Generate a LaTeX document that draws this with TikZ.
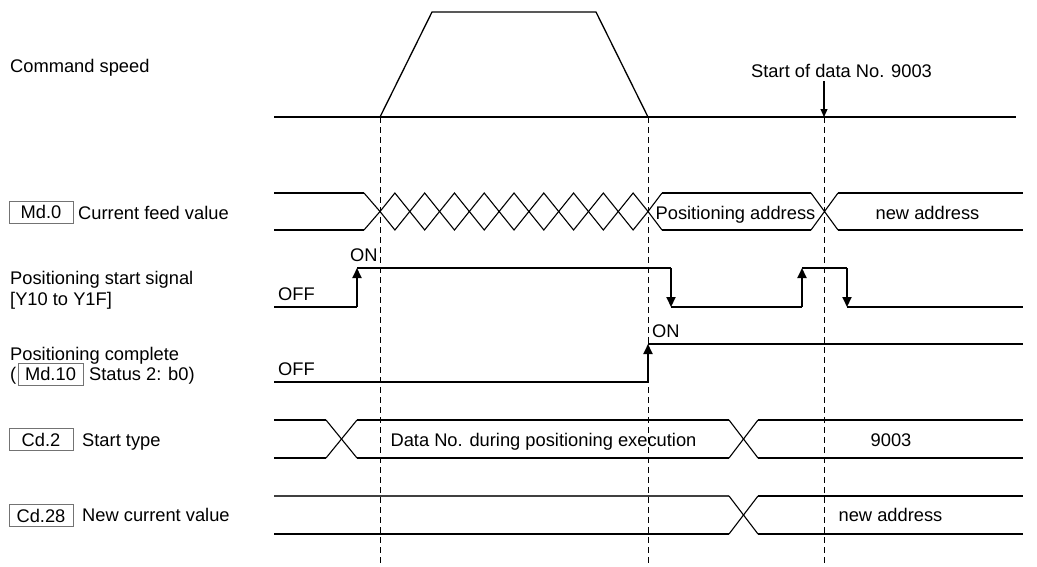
\documentclass[tikz,border=0pt]{standalone}
\usepackage{fontspec}
\setmainfont{Liberation Sans}
\usetikzlibrary{arrows.meta}
\begin{document}
\begin{tikzpicture}[x=1pt,y=-1pt,
  txt/.style={inner sep=0pt,font=\fontsize{18.3}{22}\selectfont},
  lbl/.style={txt,anchor=base west},
  ctr/.style={txt,anchor=base},
  refbox/.style={draw=black!55,line width=0.9pt,inner sep=0pt,minimum width=64pt,minimum height=22pt,font=\fontsize{18.3}{22}\selectfont},
  sig/.style={line width=2pt},
  thin/.style={line width=1.1pt},
  dashv/.style={line width=1pt,dash pattern=on 6pt off 4pt},
  arr/.style={-{Triangle[length=10pt,width=9pt]}},
  sarr/.style={-{Triangle[length=8pt,width=7pt]}}
]
\useasboundingbox (0,0) rectangle (1037,566);

% ---- labels on the left ----
\node[lbl] (cmd) at (10,72) {Command speed};
\node[refbox] (md0) at (41,212) {Md.0};
\node[lbl] (md0t) at (78,219) {Current feed value};
\node[lbl] (pss1) at (10,284) {Positioning start signal};
\node[lbl] (pss2) at (10,305) {[Y10 to Y1F]};
\node[lbl] (pc1) at (10,360) {Positioning complete};
\node[lbl] (pcpar) at (10,380) {(};
\node[refbox,minimum width=65pt] (md10) at (50.5,374) {Md.10};
\node[lbl] (pc2) at (89,380) {Status 2: b0)};
\node[refbox] (cd2) at (41,439.5) {Cd.2};
\node[lbl] (cd2t) at (82,446) {Start type};
\node[refbox] (cd28) at (41,515.5) {Cd.28};
\node[lbl] (cd28t) at (82,521) {New current value};

% ---- command speed ----
\draw[thin] (274,117) -- (1016,117);
\draw[thin,line width=1.3pt] (380,117) -- (432,12) -- (596,12) -- (648,117);
\node[lbl] (start) at (751,77) {Start of data No. 9003};
\coordinate (sa) at (824,81);
\coordinate (sb) at (824,117);
\draw[thin,sarr] (sa) -- (sb);

% ---- dashed time markers ----
\draw[dashv] (380,117) -- (380,566);
\draw[dashv] (648,117) -- (648,566);
\draw[dashv] (824,117) -- (824,566);

% ---- Md.0 current feed value ----
\draw[sig] (274,193) -- (364,193);
\draw[sig] (274,230) -- (364,230);
\draw[thin] (364,193) -- (380,211.5) -- (364,230);
\foreach \k in {0,...,8}{
  \pgfmathsetmacro{\ca}{380+\k*29.78}
  \pgfmathsetmacro{\cm}{\ca+14.89}
  \pgfmathsetmacro{\cb}{\ca+29.78}
  \draw[thin] (\ca,211.5) -- (\cm,193) -- (\cb,211.5) -- (\cm,230) -- cycle;
}
\draw[thin] (648,211.5) -- (662,193);
\draw[thin] (648,211.5) -- (662,230);
\draw[sig] (662,193) -- (811,193);
\draw[sig] (662,230) -- (811,230);
\draw[thin] (811,193) -- (838,230);
\draw[thin] (811,230) -- (838,193);
\draw[sig] (838,193) -- (1023,193);
\draw[sig] (838,230) -- (1023,230);
\node[ctr] (posaddr) at (735.5,219) {Positioning address};
\node[ctr] (newaddr1) at (927.5,219) {new address};

% ---- positioning start signal ----
\node[lbl] (off1) at (278,300) {OFF};
\node[lbl] (on1) at (350,261) {ON};
\draw[sig] (274,307) -- (357,307);
\draw[sig,arr] (357,307) -- (357,268);
\draw[sig] (357,268) -- (671,268);
\draw[sig,arr] (671,268) -- (671,307);
\draw[sig] (671,307) -- (802,307);
\draw[sig,arr] (802,307) -- (802,268);
\draw[sig] (802,268) -- (847,268);
\draw[sig,arr] (847,268) -- (847,307);
\draw[sig] (847,307) -- (1023,307);

% ---- positioning complete ----
\node[lbl] (off2) at (278,375) {OFF};
\node[lbl] (on2) at (652,337) {ON};
\draw[sig] (274,382) -- (648,382);
\draw[sig,arr] (648,382) -- (648,344);
\draw[sig] (648,344) -- (1023,344);

% ---- Cd.2 start type ----
\draw[sig] (274,420) -- (326,420);
\draw[sig] (274,458) -- (326,458);
\draw[thin] (326,420) -- (357,458);
\draw[thin] (326,458) -- (357,420);
\draw[sig] (357,420) -- (729,420);
\draw[sig] (357,458) -- (729,458);
\draw[thin] (729,420) -- (758,458);
\draw[thin] (729,458) -- (758,420);
\draw[sig] (758,420) -- (1023,420);
\draw[sig] (758,458) -- (1023,458);
\node[ctr] (dataexec) at (543.5,446) {Data No. during positioning execution};
\node[ctr] (n9003) at (891,446) {9003};

% ---- Cd.28 new current value ----
\draw[sig,black!75] (274,496) -- (729,496);
\draw[sig] (274,534) -- (729,534);
\draw[thin] (729,496) -- (758,534);
\draw[thin] (729,534) -- (758,496);
\draw[sig] (758,496) -- (1023,496);
\draw[sig] (758,534) -- (1023,534);
\node[ctr] (newaddr2) at (890.5,521) {new address};
\end{tikzpicture}
\end{document}
